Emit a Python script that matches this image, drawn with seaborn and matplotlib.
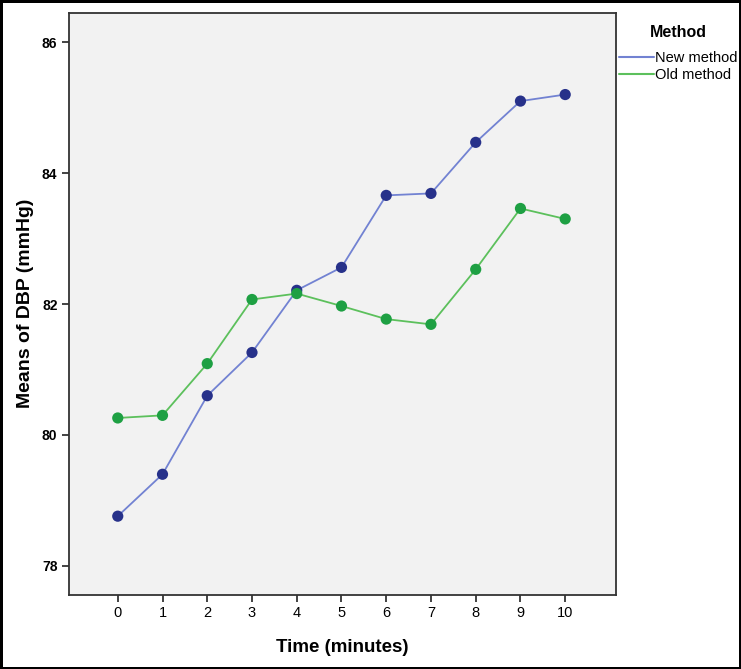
import pandas as pd
import seaborn as sns
import matplotlib.pyplot as plt
from matplotlib.lines import Line2D

# values
time_min = list(range(11))
new_method = [78.76, 79.40, 80.60, 81.26, 82.21, 82.56, 83.66, 83.69, 84.47, 85.10, 85.20]
old_method = [80.26, 80.30, 81.09, 82.07, 82.16, 81.97, 81.77, 81.69, 82.53, 83.46, 83.30]
methods = ['New method', 'Old method']
y_ticks = [78, 80, 82, 84, 86]

df = pd.DataFrame({
    'Time': time_min * 2,
    'DBP': new_method + old_method,
    'Method': [methods[0]] * len(time_min) + [methods[1]] * len(time_min),
})

sns.set_style("white")
plt.rcParams['font.family'] = ['Liberation Sans', 'DejaVu Sans']
plt.rcParams.update({'text.color': 'black', 'axes.labelcolor': 'black',
                     'xtick.color': 'black', 'ytick.color': 'black'})

line_colors = {'New method': '#7282d2', 'Old method': '#5cc05c'}
dot_colors = {'New method': '#27318a', 'Old method': '#1ea043'}

fig = plt.figure(figsize=(7.41, 6.69), dpi=100, edgecolor='black', linewidth=2.5)
ax = fig.add_axes([0.0925, 0.111, 0.7385, 0.870])
ax.set_facecolor('#f2f2f2')

sns.lineplot(data=df, x='Time', y='DBP', hue='Method', palette=line_colors,
             linewidth=1.3, legend=False, ax=ax)
sns.scatterplot(data=df, x='Time', y='DBP', hue='Method', palette=dot_colors,
                s=65, edgecolor='none', legend=False, ax=ax, zorder=3)

ax.set_xlim(-1.1, 11.13)
ax.set_ylim(77.56, 86.45)
ax.set_xticks(time_min)
ax.set_xticklabels([str(t) for t in time_min], fontsize=10.5)
ax.set_yticks(y_ticks)
ax.set_yticklabels([str(v) for v in y_ticks], fontsize=10, fontweight='bold')
ax.tick_params(axis='both', direction='out', length=5, width=1.2, color='#222222',
               bottom=True, left=True, pad=3)

for sp in ax.spines.values():
    sp.set_color('#333333')
    sp.set_linewidth(1.3)

ax.set_xlabel('Time (minutes)', fontsize=13.5, fontweight='bold', labelpad=14)
ax.set_ylabel('Means of DBP (mmHg)', fontsize=14, fontweight='bold', labelpad=6)

handles = [Line2D([0], [0], color=line_colors[m], lw=1.5) for m in methods]
leg = fig.legend(handles, methods, title='Method', loc='upper left',
                 bbox_to_anchor=(0.836, 0.963), frameon=False, fontsize=10.5,
                 handlelength=2.4, handletextpad=0.05, labelspacing=0.2,
                 borderaxespad=0, borderpad=0,
                 title_fontproperties={'weight': 'bold', 'size': 11.5})
leg._legend_box.sep = 8

fig.savefig('out.png', dpi=100)
